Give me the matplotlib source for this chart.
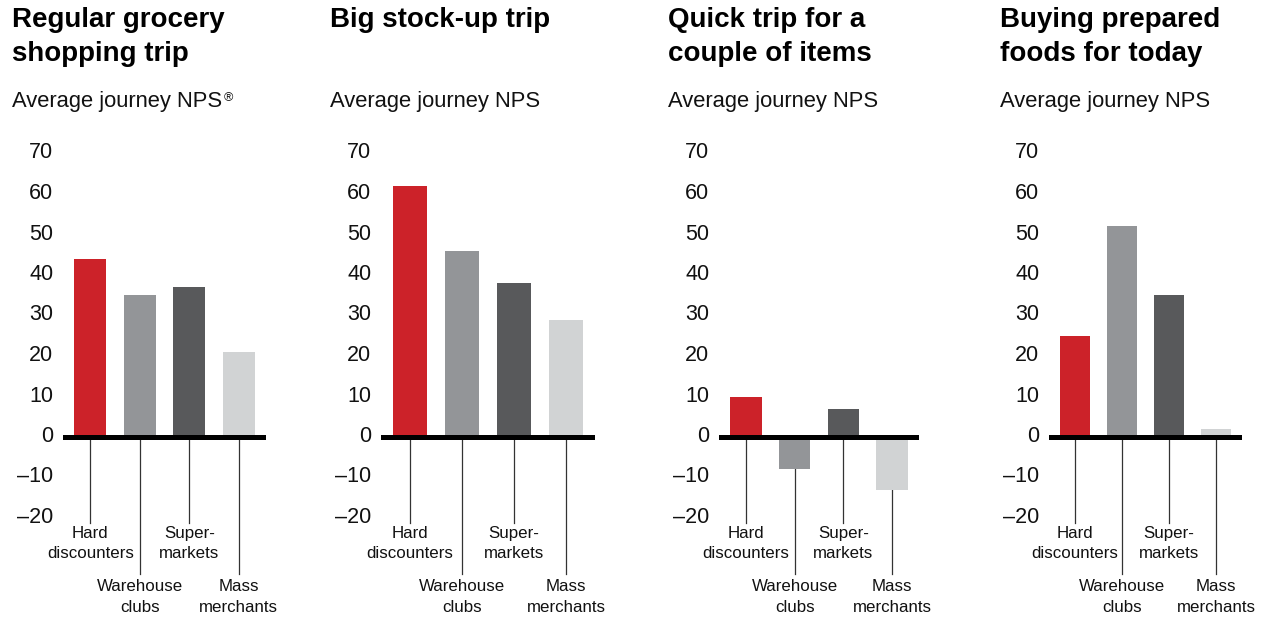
import matplotlib
matplotlib.use("Agg")
import matplotlib.pyplot as plt
from matplotlib.transforms import ScaledTranslation

plt.rcParams['font.family'] = ['Liberation Sans', 'DejaVu Sans']

# data
titles = ["Regular grocery\nshopping trip", "Big stock-up trip",
          "Quick trip for a\ncouple of items", "Buying prepared\nfoods for today"]
subtitle = "Average journey NPS"
categories = ["Hard\ndiscounters", "Warehouse\nclubs", "Super-\nmarkets", "Mass\nmerchants"]
regular_trip = [44, 35, 37, 21]
stockup_trip = [62, 46, 38, 29]
quick_trip = [10, -8, 7, -13]
prepared_foods = [25, 52, 35, 2]
tick_values = [70, 60, 50, 40, 30, 20, 10, 0, -10, -20]
tick_labels = ["70", "60", "50", "40", "30", "20", "10", "0", "\u201310", "\u201320"]

series = [regular_trip, stockup_trip, quick_trip, prepared_foods]
colors = ["#CC2229", "#939598", "#58595B", "#D1D3D4"]

W, H = 1262, 618
fig = plt.figure(figsize=(W / 100, H / 100), dpi=100)

# panel geometry in pixels: axes left, axes width, title x
panel_left = [63, 381, 719, 1049]
panel_width = [203, 214, 200, 193]
title_x = [12, 330, 668, 1000]

zero_px = 437
px_per_unit = 4.05
top_px = 140
ymin = -(H - zero_px) / px_per_unit
ymax = (zero_px - top_px) / px_per_unit

for i, vals in enumerate(series):
    ax = fig.add_axes([panel_left[i] / W, 0, panel_width[i] / W, (H - top_px) / H])
    ax.set_xlim(-0.55, 3.55)
    ax.set_ylim(ymin, ymax)
    for s in ax.spines.values():
        s.set_visible(False)
    ax.set_xticks([])
    ax.set_yticks(tick_values)
    ax.set_yticklabels(tick_labels, fontsize=15.5, color="#111111")
    ax.tick_params(axis='y', length=0, pad=7)
    # labels sit a little above their gridline in the original
    for lab in ax.get_yticklabels():
        lab.set_transform(lab.get_transform() + ScaledTranslation(0, 3 / 100, fig.dpi_scale_trans))

    x = list(range(len(vals)))
    ax.bar(x, vals, width=0.65, color=colors, zorder=2)
    ax.axhline(0, color="black", lw=3.6, zorder=3)

    # leader lines down to the category names, alternating two rows
    for j, v in enumerate(vals):
        low = j % 2 == 1
        end = -33.8 if low else -21.2
        gap = 1.3 if low else 0.8
        start = min(v, 0)
        ax.plot([j, j], [start, end], color="#333333", lw=0.9, zorder=1)
        ax.text(j, end - gap, categories[j], ha='center', va='top',
                fontsize=12.2, linespacing=1.45, color="#111111")

    fig.text(title_x[i] / W, 1 - 7 / H, titles[i], ha='left', va='top',
             fontsize=20, fontweight='bold', linespacing=1.38, color="black")
    st = fig.text(title_x[i] / W, 1 - 91 / H, subtitle, ha='left', va='top',
                  fontsize=15.8, color="#111111")
    if i == 0:
        ax.annotate("\u00ae", xy=(1, 1), xycoords=st, xytext=(1, -1),
                    textcoords='offset points', ha='left', va='top',
                    fontsize=9, color="#111111", annotation_clip=False)

fig.savefig("out.png", dpi=100)
